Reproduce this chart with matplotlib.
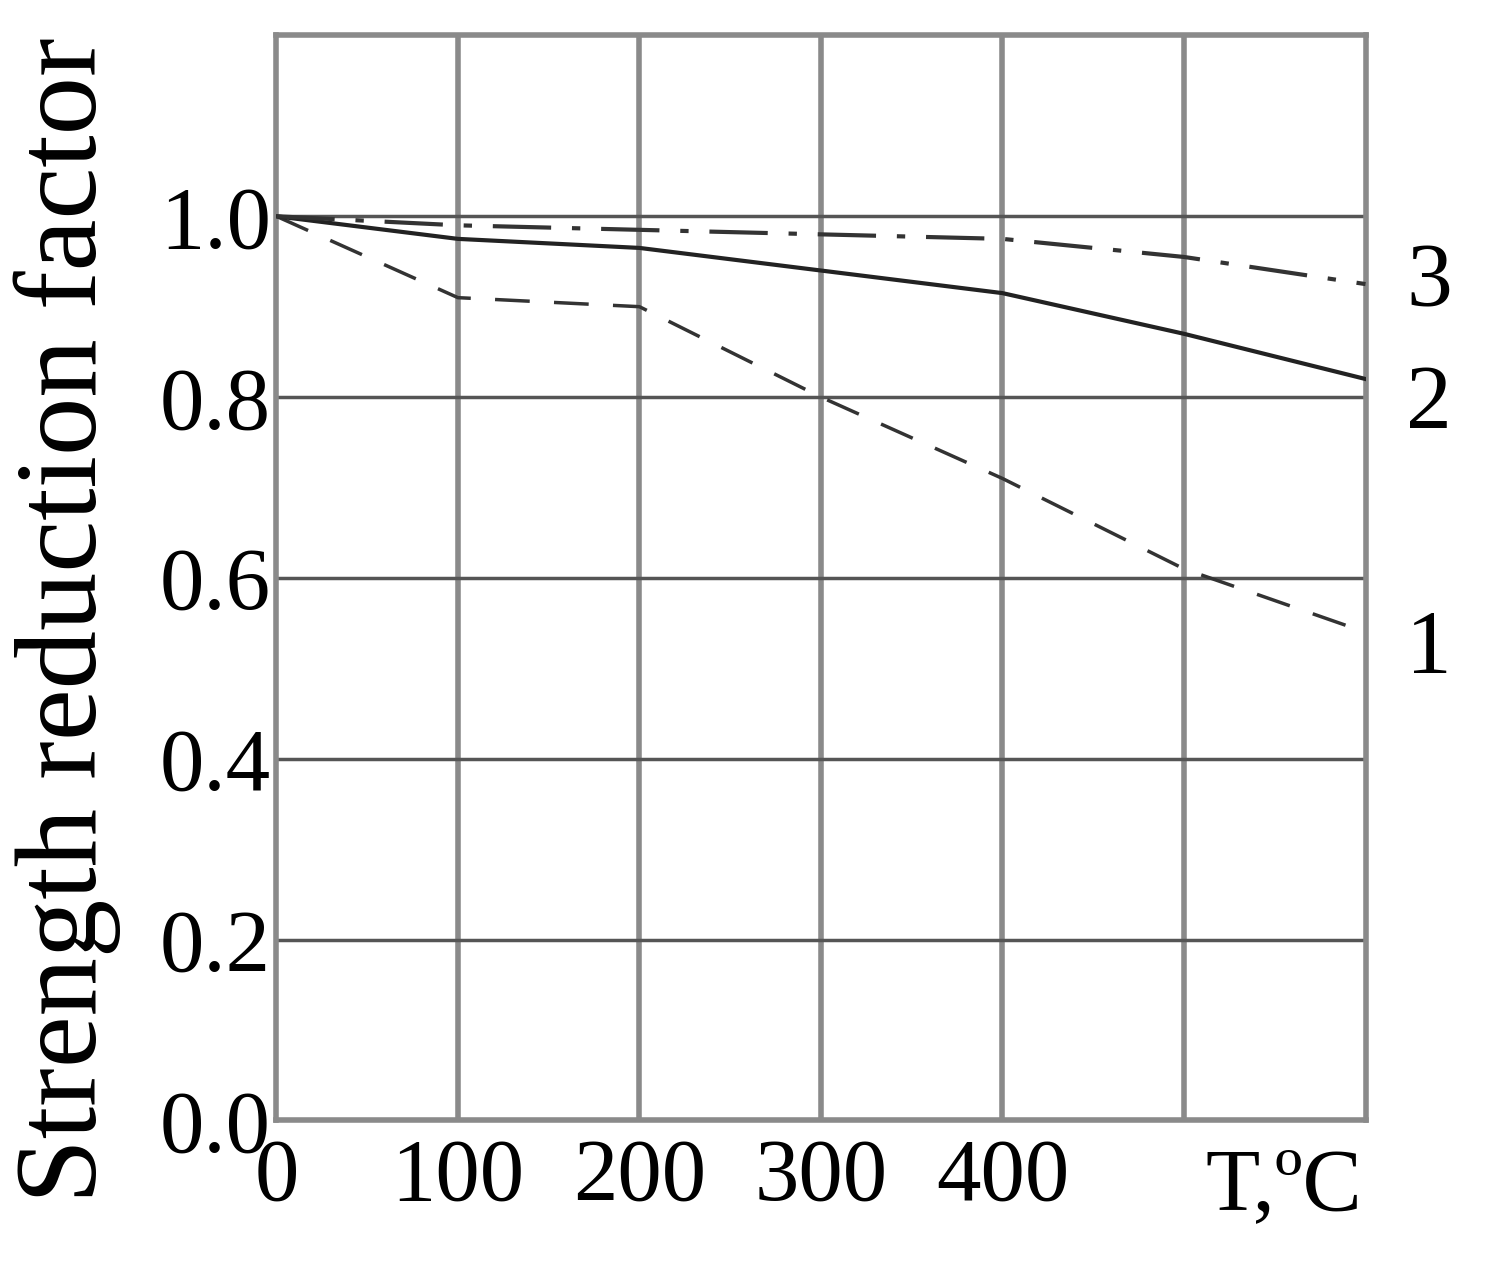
import matplotlib
matplotlib.use('Agg')
import matplotlib.pyplot as plt

# --- data ---
temps = [0, 100, 200, 300, 400, 500, 600]
curve1 = [1.0, 0.91, 0.90, 0.80, 0.71, 0.61, 0.54]     # dashed
curve2 = [1.0, 0.975, 0.965, 0.94, 0.915, 0.87, 0.82]  # solid
curve3 = [1.0, 0.99, 0.985, 0.98, 0.975, 0.955, 0.925] # dash-dot
xticks = [0, 100, 200, 300, 400]
yticks = [0.0, 0.2, 0.4, 0.6, 0.8, 1.0]
curve_labels = ['1', '2', '3']

plt.rcParams['font.family'] = ['Liberation Serif', 'DejaVu Serif']

fig = plt.figure(figsize=(14.94, 12.66), dpi=100)
ax = fig.add_axes([0.185, 0.115, 0.729, 0.857])
ax.set_xlim(0, 600)
ax.set_ylim(0, 1.2)

for v in [100, 200, 300, 400, 500]:
    ax.axvline(v, color='#8a8a8a', lw=4, zorder=1)
for v in [0.2, 0.4, 0.6, 0.8, 1.0]:
    ax.axhline(v, color='#555555', lw=2.5, zorder=1)
for s in ax.spines.values():
    s.set_color('#8a8a8a')
    s.set_linewidth(4)

ax.plot(temps, curve1, color='#333333', lw=2.5, ls=(0, (10, 7)), zorder=3)
ax.plot(temps, curve2, color='#222222', lw=3, zorder=3)
ax.plot(temps, curve3, color='#333333', lw=3, ls=(0, (14, 5, 2, 5)), zorder=3)

ax.set_xticks(xticks)
ax.set_xticklabels([str(t) for t in xticks], fontsize=64)
ax.set_yticks(yticks)
ax.set_yticklabels([f'{v:.1f}' for v in yticks], fontsize=64)
ax.tick_params(length=0, pad=4)
ax.tick_params(axis='x', pad=12)

ax.text(555, -0.03, 'T,ºC', fontsize=64, ha='center', va='top')
ends = [curve1[-1], curve2[-1], curve3[-1]]
offs = [-0.02, -0.03, 0.0]
for lab, yv, o in zip(curve_labels, ends, offs):
    ax.text(635, yv + o, lab, fontsize=66, ha='center', va='center', clip_on=False)

fig.text(0.045, 0.51, 'Strength reduction factor', rotation=90, fontsize=84,
         ha='center', va='center')

fig.savefig('out.png', facecolor='white')
